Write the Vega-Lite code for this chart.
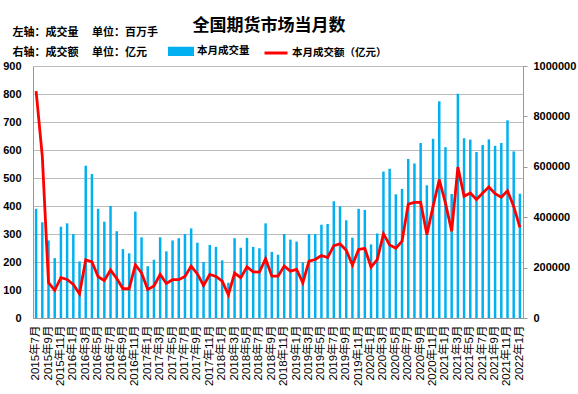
{
  "$schema": "https://vega.github.io/schema/vega-lite/v6.json",
  "width": 490,
  "height": 252,
  "autosize": {"type": "none"},
  "padding": {"left": 33, "top": 66, "right": 55, "bottom": 76},
  "background": "white",
  "config": {"view": {"stroke": null}, "font": "Liberation Sans, Noto Sans CJK SC"},
  "title": {"text": "全国期货市场当月数", "font": "Noto Sans CJK SC", "fontSize": 17, "fontWeight": "bold", "color": "#000000", "anchor": "middle", "dx": -9, "dy": 13},
  "data": {"values": [
    {"month": "2015年7月", "vol": 390, "amt": 900000},
    {"month": "2015年8月", "vol": 342, "amt": 641000},
    {"month": "2015年9月", "vol": 277, "amt": 140000},
    {"month": "2015年10月", "vol": 214, "amt": 110000},
    {"month": "2015年11月", "vol": 326, "amt": 160000},
    {"month": "2015年12月", "vol": 338, "amt": 153000},
    {"month": "2016年1月", "vol": 300, "amt": 133000},
    {"month": "2016年2月", "vol": 202, "amt": 96000},
    {"month": "2016年3月", "vol": 544, "amt": 231000},
    {"month": "2016年4月", "vol": 514, "amt": 223000},
    {"month": "2016年5月", "vol": 390, "amt": 164000},
    {"month": "2016年6月", "vol": 344, "amt": 149000},
    {"month": "2016年7月", "vol": 400, "amt": 190000},
    {"month": "2016年8月", "vol": 310, "amt": 157000},
    {"month": "2016年9月", "vol": 246, "amt": 116000},
    {"month": "2016年10月", "vol": 231, "amt": 116000},
    {"month": "2016年11月", "vol": 380, "amt": 211000},
    {"month": "2016年12月", "vol": 288, "amt": 179000},
    {"month": "2017年1月", "vol": 185, "amt": 113000},
    {"month": "2017年2月", "vol": 208, "amt": 127000},
    {"month": "2017年3月", "vol": 288, "amt": 173000},
    {"month": "2017年4月", "vol": 238, "amt": 137000},
    {"month": "2017年5月", "vol": 277, "amt": 152000},
    {"month": "2017年6月", "vol": 285, "amt": 152000},
    {"month": "2017年7月", "vol": 300, "amt": 165000},
    {"month": "2017年8月", "vol": 320, "amt": 206000},
    {"month": "2017年9月", "vol": 269, "amt": 175000},
    {"month": "2017年10月", "vol": 200, "amt": 129000},
    {"month": "2017年11月", "vol": 261, "amt": 173000},
    {"month": "2017年12月", "vol": 254, "amt": 165000},
    {"month": "2018年1月", "vol": 206, "amt": 146000},
    {"month": "2018年2月", "vol": 126, "amt": 92000},
    {"month": "2018年3月", "vol": 285, "amt": 178000},
    {"month": "2018年4月", "vol": 251, "amt": 160000},
    {"month": "2018年5月", "vol": 286, "amt": 203000},
    {"month": "2018年6月", "vol": 254, "amt": 183000},
    {"month": "2018年7月", "vol": 249, "amt": 182000},
    {"month": "2018年8月", "vol": 338, "amt": 235000},
    {"month": "2018年9月", "vol": 236, "amt": 166000},
    {"month": "2018年10月", "vol": 226, "amt": 166000},
    {"month": "2018年11月", "vol": 300, "amt": 206000},
    {"month": "2018年12月", "vol": 280, "amt": 186000},
    {"month": "2019年1月", "vol": 273, "amt": 193000},
    {"month": "2019年2月", "vol": 199, "amt": 140000},
    {"month": "2019年3月", "vol": 300, "amt": 226000},
    {"month": "2019年4月", "vol": 300, "amt": 232000},
    {"month": "2019年5月", "vol": 333, "amt": 248000},
    {"month": "2019年6月", "vol": 336, "amt": 240000},
    {"month": "2019年7月", "vol": 417, "amt": 287000},
    {"month": "2019年8月", "vol": 399, "amt": 294000},
    {"month": "2019年9月", "vol": 349, "amt": 269000},
    {"month": "2019年10月", "vol": 287, "amt": 210000},
    {"month": "2019年11月", "vol": 390, "amt": 272000},
    {"month": "2019年12月", "vol": 386, "amt": 276000},
    {"month": "2020年1月", "vol": 263, "amt": 202000},
    {"month": "2020年2月", "vol": 302, "amt": 232000},
    {"month": "2020年3月", "vol": 523, "amt": 334000},
    {"month": "2020年4月", "vol": 533, "amt": 290000},
    {"month": "2020年5月", "vol": 442, "amt": 277000},
    {"month": "2020年6月", "vol": 461, "amt": 305000},
    {"month": "2020年7月", "vol": 568, "amt": 452000},
    {"month": "2020年8月", "vol": 552, "amt": 459000},
    {"month": "2020年9月", "vol": 625, "amt": 459000},
    {"month": "2020年10月", "vol": 474, "amt": 331000},
    {"month": "2020年11月", "vol": 640, "amt": 443000},
    {"month": "2020年12月", "vol": 774, "amt": 549000},
    {"month": "2021年1月", "vol": 610, "amt": 456000},
    {"month": "2021年2月", "vol": 443, "amt": 344000},
    {"month": "2021年3月", "vol": 801, "amt": 599000},
    {"month": "2021年4月", "vol": 642, "amt": 483000},
    {"month": "2021年5月", "vol": 637, "amt": 496000},
    {"month": "2021年6月", "vol": 593, "amt": 470000},
    {"month": "2021年7月", "vol": 618, "amt": 496000},
    {"month": "2021年8月", "vol": 638, "amt": 520000},
    {"month": "2021年9月", "vol": 615, "amt": 493000},
    {"month": "2021年10月", "vol": 625, "amt": 479000},
    {"month": "2021年11月", "vol": 706, "amt": 505000},
    {"month": "2021年12月", "vol": 595, "amt": 443000},
    {"month": "2022年1月", "vol": 444, "amt": 360000}
  ]},
  "encoding": {
    "x": {
      "field": "month", "type": "ordinal", "sort": null,
      "scale": {"paddingInner": 0.6, "paddingOuter": 0.3},
      "axis": {
        "title": null,
        "values": ["2015年7月","2015年9月","2015年11月","2016年1月","2016年3月","2016年5月","2016年7月","2016年9月","2016年11月","2017年1月","2017年3月","2017年5月","2017年7月","2017年9月","2017年11月","2018年1月","2018年3月","2018年5月","2018年7月","2018年9月","2018年11月","2019年1月","2019年3月","2019年5月","2019年7月","2019年9月","2019年11月","2020年1月","2020年3月","2020年5月","2020年7月","2020年9月","2020年11月","2021年1月","2021年3月","2021年5月","2021年7月","2021年9月","2021年11月","2022年1月"],
        "labelAngle": -90, "labelAlign": "right", "labelBaseline": "middle",
        "labelFontSize": 11.5, "labelColor": "#000000", "labelPadding": 7,
        "labelOverlap": false, "labelFont": "Liberation Sans, Noto Sans CJK SC",
        "ticks": false, "domain": true, "domainColor": "#999999", "grid": false
      }
    }
  },
  "layer": [
    {
      "mark": {"type": "bar"},
      "encoding": {
        "y": {
          "field": "vol", "type": "quantitative",
          "scale": {"domain": [0, 900]},
          "axis": {
            "values": [0,100,200,300,400,500,600,700,800,900],
            "grid": true, "gridColor": "#bbbbbb", "gridWidth": 1.2,
            "domain": true, "domainColor": "#999999", "ticks": false,
            "labelFontSize": 11, "labelFontWeight": "bold", "labelColor": "#000000", "labelPadding": 12,
            "title": "左轴：成交量　 单位：百万手",
            "titleFont": "Noto Sans CJK SC", "titleFontSize": 11, "titleFontWeight": "bold", "titleColor": "#000000",
            "titleAngle": 0, "titleAlign": "left", "titleBaseline": "middle",
            "titleX": -21, "titleY": -34
          }
        },
        "color": {
          "datum": "本月成交量",
          "scale": {"domain": ["本月成交量", "本月成交额（亿元）"], "range": ["#00B0F0", "#FF0000"]},
          "legend": {
            "orient": "none", "legendX": 135, "legendY": -28, "direction": "horizontal",
            "title": null, "padding": 0, "columnPadding": 8, "labelOffset": 3,
            "labelFont": "Noto Sans CJK SC", "labelFontSize": 10.5, "labelFontWeight": "bold", "labelColor": "#000000",
            "symbolSize": 529,
            "encode": {
              "symbols": {
                "update": {
                  "shape": {"signal": "datum.value === '本月成交量' ? 'M-1,-0.27H1V0.27H-1Z' : 'stroke'"},
                  "fill": {"signal": "datum.value === '本月成交量' ? '#00B0F0' : 'transparent'"},
                  "stroke": {"signal": "datum.value === '本月成交量' ? 'transparent' : '#FF0000'"},
                  "strokeWidth": {"value": 3},
                  "opacity": {"value": 1},
                  "fillOpacity": {"value": 1}
                }
              }
            }
          }
        }
      }
    },
    {
      "mark": {"type": "line", "strokeWidth": 2.8},
      "encoding": {
        "y": {
          "field": "amt", "type": "quantitative",
          "scale": {"domain": [0, 1000000]},
          "axis": {
            "orient": "right",
            "values": [0,200000,400000,600000,800000,1000000],
            "format": "d",
            "grid": false,
            "domain": true, "domainColor": "#999999", "ticks": true, "tickColor": "#999999", "tickSize": 4,
            "labelFontSize": 11, "labelFontWeight": "bold", "labelColor": "#000000", "labelPadding": 6,
            "title": "右轴：成交额　 单位：亿元",
            "titleFont": "Noto Sans CJK SC", "titleFontSize": 11, "titleFontWeight": "bold", "titleColor": "#000000",
            "titleAngle": 0, "titleAlign": "left", "titleBaseline": "middle",
            "titleX": -511, "titleY": -14
          }
        },
        "color": {"datum": "本月成交额（亿元）"}
      }
    }
  ],
  "resolve": {"scale": {"y": "independent"}}
}
